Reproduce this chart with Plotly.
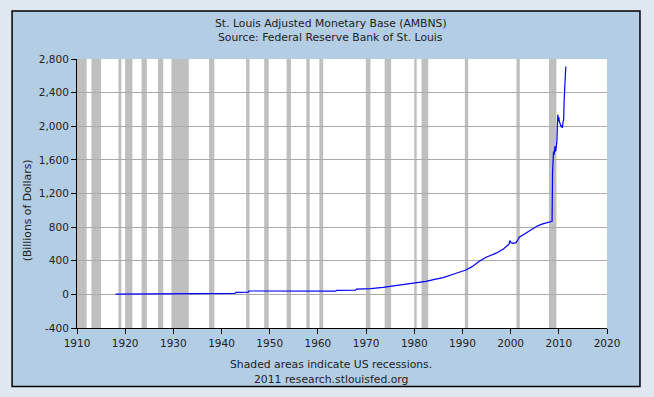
import plotly.graph_objects as go

# ---- data (decimal years, billions of dollars) ----
years = [1918.0, 1925.0, 1934.9, 1935.1, 1942.8, 1943.0, 1945.5, 1945.7, 1949.6, 1949.8,
         1950.2, 1963.7, 1963.9, 1967.8, 1968.0, 1971.0, 1973.5, 1975.2, 1977.0, 1980.4,
         1982.4, 1984.0, 1986.0, 1988.7, 1990.7, 1992.0, 1993.5, 1994.9, 1996.0, 1997.0,
         1998.5, 1999.7, 1999.85, 2000.1, 2000.5, 2001.1, 2001.5, 2001.8, 2002.8, 2003.8,
         2004.8, 2005.6, 2006.5, 2007.5, 2008.35, 2008.6, 2008.7, 2008.8, 2008.9, 2009.0,
         2009.1, 2009.2, 2009.35, 2009.5, 2009.6, 2009.7, 2009.8, 2009.9, 2010.0, 2010.1,
         2010.3, 2010.5, 2010.6, 2010.75, 2010.9, 2011.0, 2011.1, 2011.2, 2011.3, 2011.45]
ambns = [3, 4, 5, 10, 12, 24, 26, 40, 40, 35,
         37, 38, 48, 50, 62, 68, 84, 96, 110, 136,
         155, 175, 199, 251, 290, 330, 395, 441, 465, 490,
         540, 600, 640, 615, 608, 615, 650, 679, 715, 754,
         790, 815, 835, 850, 860, 870, 1450, 1600, 1700, 1660,
         1740, 1760, 1700, 1800, 1820, 2000, 2140, 2060, 2110, 2060,
         2020, 1990, 2010, 1980, 2060, 2070, 2300, 2480, 2560, 2710]

rec_start = [1910.0, 1913.0, 1918.6, 1920.0, 1923.4, 1926.8, 1929.6, 1937.4, 1945.1, 1948.85,
             1953.5, 1957.6, 1960.3, 1969.95, 1973.85, 1980.0, 1981.5, 1990.5, 2001.2, 2007.95]
rec_end = [1912.0, 1915.0, 1919.2, 1921.5, 1924.5, 1927.9, 1933.2, 1938.5, 1945.8, 1949.8,
           1954.4, 1958.3, 1961.1, 1970.9, 1975.2, 1980.5, 1982.9, 1991.2, 2001.9, 2009.5]

x_ticks = [1910, 1920, 1930, 1940, 1950, 1960, 1970, 1980, 1990, 2000, 2010, 2020]
y_ticks = [-400, 0, 400, 800, 1200, 1600, 2000, 2400, 2800]
y_labels = ["-400", "0", "400", "800", "1,200", "1,600", "2,000", "2,400", "2,800"]

# ---- layout geometry (pixels) ----
W, H = 654, 397
L, R, T, B = 77, 607.5, 58.5, 328
pw, ph = R - L, B - T


def px(x):
    return (x - L) / pw


def py(y):
    return (B - y) / ph


FONT = "DejaVu Sans"
TXT = "#222222"

fig = go.Figure()
fig.add_trace(go.Scatter(x=years, y=ambns, mode="lines",
                         line=dict(color="#0000ff", width=1.2), hoverinfo="skip"))

shapes = [dict(type="rect", xref="paper", yref="paper",
               x0=px(12), x1=px(640.5), y0=py(386.5), y1=py(10.5),
               fillcolor="#b3cde5", line=dict(color="black", width=1.5), layer="below"),
          dict(type="rect", xref="paper", yref="paper", x0=0, x1=1, y0=0, y1=1,
               fillcolor="white", line=dict(width=0), layer="below")]
for s, e in zip(rec_start, rec_end):
    shapes.append(dict(type="rect", xref="x", yref="paper", x0=s, x1=e, y0=0, y1=1,
                       fillcolor="#bfbfbf", line=dict(width=0), layer="below"))

ann = [
    dict(text="St. Louis Adjusted Monetary Base (AMBNS)", x=px(331), y=py(23)),
    dict(text="Source: Federal Reserve Bank of St. Louis", x=px(331), y=py(37)),
    dict(text="Shaded areas indicate US recessions.", x=px(331), y=py(365)),
    dict(text="2011 research.stlouisfed.org", x=px(331), y=py(380)),
]
annotations = []
for a in ann:
    a.update(xref="paper", yref="paper", showarrow=False, xanchor="center", yanchor="middle",
             font=dict(family=FONT, size=10.8, color=TXT))
    annotations.append(a)
annotations.append(dict(text="(Billions of Dollars)", x=px(27), y=py(210), xref="paper", yref="paper",
                        showarrow=False, textangle=-90, xanchor="center", yanchor="middle",
                        font=dict(family=FONT, size=10.8, color=TXT)))

fig.update_layout(
    width=W, height=H,
    margin=dict(l=L, r=W - R, t=T, b=H - B, pad=0),
    paper_bgcolor="#dfe7f0",
    plot_bgcolor="rgba(0,0,0,0)",
    showlegend=False,
    shapes=shapes,
    annotations=annotations,
    xaxis=dict(range=[1910, 2020], tickvals=x_ticks, ticktext=[str(v) for v in x_ticks],
               showgrid=False, zeroline=False, showline=True, linecolor="black", linewidth=1,
               ticks="outside", ticklen=5, tickcolor="black",
               tickfont=dict(family=FONT, size=10.5, color=TXT)),
    yaxis=dict(range=[-400, 2800], tickvals=y_ticks, ticktext=y_labels,
               showgrid=True, gridcolor="#aaaaaa", gridwidth=1, zeroline=False,
               showline=True, linecolor="black", linewidth=1,
               ticks="outside", ticklen=5, tickcolor="black",
               tickfont=dict(family=FONT, size=10.5, color=TXT)),
)

fig.write_html("out.html", config={"displayModeBar": False},
               post_script="document.body.style.margin='0';document.body.style.background='#dfe7f0';")
